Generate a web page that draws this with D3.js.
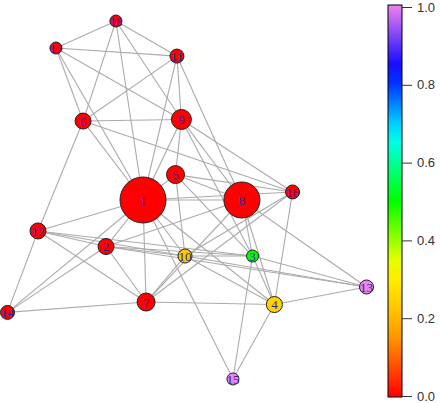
<!DOCTYPE html>
<html>
<head>
<meta charset="utf-8">
<script src="https://cdn.jsdelivr.net/npm/d3@7"></script>
<style>
  body { margin: 0; background: #fff; }
  svg { display: block; }
</style>
</head>
<body>
<div id="chart"></div>
<script>
// node ids, layout coordinates (-1..1), size and colour value
var nodeIds  = ["1","2","3","4","5","6","7","8","9","10","11","12","13","14","15","16","17","18"];
var layoutX  = [-0.245,-0.451,0.365,0.487,-0.064,-0.579,-0.228,0.306,-0.031,-0.011,-0.056,-0.830,1.0,-1.0,0.256,0.588,-0.730,-0.396];
var layoutY  = [0.0,-0.26,-0.313,-0.584,0.142,0.441,-0.570,0.0,0.450,-0.313,0.804,-0.173,-0.486,-0.628,-1.0,0.045,0.849,1.0];
var nodeSize = [23,8,6,8,9,8,9,18,10,7,7,8,7,7,6,7,6,6];
var nodeValue= [0,0,0.5,0.25,0,0,0,0,0,0.23,0,0,1,0,1,0,0,0];

var edges = [
  ["18","17"],["18","11"],["18","6"],["18","1"],["18","9"],
  ["17","11"],["17","6"],["17","1"],["17","9"],
  ["11","6"],["11","9"],["11","1"],["11","8"],
  ["6","9"],["6","1"],["6","16"],["6","12"],
  ["9","5"],["9","1"],["9","8"],["9","16"],["9","3"],
  ["5","1"],["5","8"],["5","16"],["5","10"],["5","3"],
  ["1","8"],["1","16"],["1","2"],["1","7"],["1","10"],["1","4"],["1","12"],["1","14"],["1","15"],
  ["2","12"],["2","14"],["2","10"],["2","3"],["2","8"],["2","7"],["2","13"],
  ["12","14"],["12","7"],["12","10"],["12","3"],
  ["14","7"],
  ["7","10"],["7","8"],["7","4"],["7","16"],
  ["10","3"],["10","4"],["10","13"],["10","16"],
  ["8","3"],["8","4"],["8","13"],
  ["16","4"],
  ["3","13"],["3","4"],["3","15"],
  ["4","13"],["4","15"]
];

var barTicks = [0, 0.2, 0.4, 0.6, 0.8, 1.0];
var paletteStops = ["red","orange","yellow","#00ff00","cyan","blue","violet"];

var width = 440, height = 403;

var x = d3.scaleLinear().domain([-1, 1]).range([7.5, 366.5]);
var y = d3.scaleLinear().domain([-1, 1]).range([379, 21]);

var color = d3.scaleLinear()
    .domain(paletteStops.map(function(d, i) { return i / (paletteStops.length - 1); }))
    .range(paletteStops)
    .interpolate(d3.interpolateRgb);

var nodes = nodeIds.map(function(id, i) {
    return {id: id, x: layoutX[i], y: layoutY[i], size: nodeSize[i], value: nodeValue[i]};
});
var byId = {};
nodes.forEach(function(n) { byId[n.id] = n; });

var svg = d3.select("#chart").append("svg")
    .attr("width", width)
    .attr("height", height);

svg.append("g")
    .selectAll("line")
    .data(edges)
    .enter().append("line")
    .attr("x1", function(d) { return x(byId[d[0]].x); })
    .attr("y1", function(d) { return y(byId[d[0]].y); })
    .attr("x2", function(d) { return x(byId[d[1]].x); })
    .attr("y2", function(d) { return y(byId[d[1]].y); })
    .attr("stroke", "#ababab")
    .attr("stroke-width", 1.1);

var node = svg.append("g")
    .selectAll("g")
    .data(nodes)
    .enter().append("g")
    .attr("transform", function(d) { return "translate(" + x(d.x) + "," + y(d.y) + ")"; });

node.append("circle")
    .attr("r", function(d) { return d.size; })
    .attr("fill", function(d) { return color(d.value); })
    .attr("stroke", "#222")
    .attr("stroke-width", 1);

node.append("text")
    .attr("text-anchor", "middle")
    .attr("dy", "0.35em")
    .style("font-family", "'Liberation Serif', 'DejaVu Serif', serif")
    .style("font-size", "13px")
    .attr("fill", "#2626a8")
    .text(function(d) { return d.id; });

// colour bar
var barY = d3.scaleLinear().domain([0, 1]).range([396, 7]);
var defs = svg.append("defs");
var grad = defs.append("linearGradient")
    .attr("id", "bar-grad")
    .attr("x1", "0").attr("y1", "1").attr("x2", "0").attr("y2", "0");
d3.range(0, 1.0001, 0.05).forEach(function(t) {
    grad.append("stop").attr("offset", t).attr("stop-color", color(t));
});

svg.append("rect")
    .attr("x", 388)
    .attr("y", barY(1) - 2)
    .attr("width", 14)
    .attr("height", barY(0) - barY(1) + 3)
    .attr("fill", "url(#bar-grad)")
    .attr("stroke", "#000")
    .attr("stroke-width", 1);

var axis = svg.append("g")
    .attr("transform", "translate(402,0)")
    .call(d3.axisRight(barY).tickValues(barTicks).tickFormat(d3.format(".1f")).tickSize(10).tickPadding(5));

axis.select(".domain").remove();
axis.selectAll("line").attr("stroke", "#333");
axis.selectAll("text")
    .style("font-family", "'Liberation Sans', Arial, sans-serif")
    .style("font-size", "13px")
    .attr("fill", "#333");
</script>
</body>
</html>
